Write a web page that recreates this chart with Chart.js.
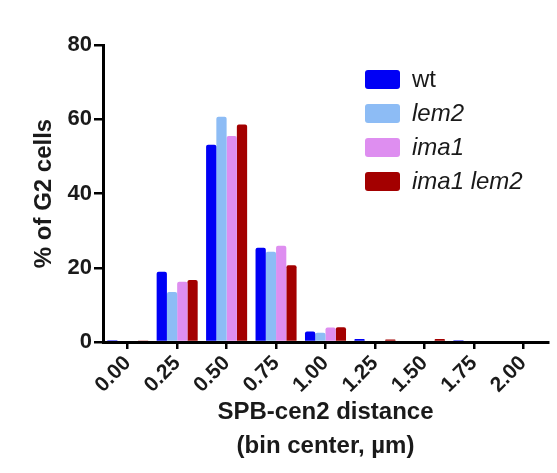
<!DOCTYPE html>
<html>
<head>
<meta charset="utf-8">
<script src="https://cdn.jsdelivr.net/npm/chart.js@4.4.1/dist/chart.umd.min.js"></script>
<style>
  html, body { margin:0; padding:0; background:#fff; }
  #wrap { width:557px; height:473px; position:relative; }
</style>
</head>
<body>
<div id="wrap"><canvas id="c"></canvas></div>
<script>
  // bin centers (µm)
  const bins = ["0.00","0.25","0.50","0.75","1.00","1.25","1.50","1.75","2.00"];
  const yTicks = [0, 20, 40, 60, 80];

  // % of G2 cells per bin
  const wt       = [0.5, 18.9, 53.1, 25.4, 2.8, 0.8, 0,   0.5, 0];
  const lem2     = [0,   13.5, 60.7, 24.3, 2.5, 0,   0,   0,   0];
  const ima1     = [0,   16.2, 55.5, 25.9, 3.9, 0,   0,   0,   0];
  const ima1lem2 = [0.4, 16.7, 58.6, 20.7, 4.0, 0.7, 0.8, 0,   0];

  const seriesNames = ["wt", "lem2", "ima1", "ima1 lem2"];

  const FONT = "'Liberation Sans', Arial, sans-serif";
  const INK = "#1a1a1a";

  function ds(label, data, color, italic){
    return {
      label, data, backgroundColor: color, italic,
      borderRadius: { topLeft: 2, topRight: 2 }, borderSkipped: "bottom",
      barPercentage: 1.0, categoryPercentage: 0.83
    };
  }

  // legend drawn inside the plot, upper right
  const insideLegend = {
    id: "insideLegend",
    afterDraw(chart){
      const ctx = chart.ctx;
      ctx.save();
      chart.data.datasets.forEach((d, i) => {
        const y = 70 + i * 34;
        ctx.fillStyle = d.backgroundColor;
        ctx.beginPath();
        ctx.roundRect(365, y, 35, 19, 3);
        ctx.fill();
        ctx.fillStyle = INK;
        ctx.font = (d.italic ? "italic " : "") + "24px " + FONT;
        ctx.textBaseline = "middle";
        ctx.textAlign = "left";
        ctx.fillText(d.label, 412, y + 10);
      });
      ctx.restore();
    }
  };

  new Chart(document.getElementById("c"), {
    type: "bar",
    data: {
      labels: bins,
      datasets: [
        ds(seriesNames[0], wt,       "#0000f5", false),
        ds(seriesNames[1], lem2,     "#8dbcf5", true),
        ds(seriesNames[2], ima1,     "#de8ef0", true),
        ds(seriesNames[3], ima1lem2, "#a30000", true),
      ]
    },
    options: {
      responsive: true, maintainAspectRatio: false, animation: false,
      layout: { padding: { top: 45, right: 9, left: 0, bottom: 0 } },
      plugins: { legend: { display: false }, tooltip: { enabled: false } },
      scales: {
        x: {
          offset: true,
          grid: { display: true, offset: false, drawOnChartArea: false, drawTicks: true, tickLength: 7, color: "#000", lineWidth: 2.5 },
          border: { color: "#000", width: 3 },
          ticks: { color: INK, font: { family: FONT, size: 21, weight: "bold" }, minRotation: 45, maxRotation: 45, padding: 2 },
          title: { display: true, text: ["SPB-cen2 distance", "(bin center, µm)"], color: INK,
                   font: { family: FONT, size: 24, weight: "bold", lineHeight: 1.42 }, padding: { top: 4, bottom: 10 } },
          afterFit(s){ s.height = 131; }
        },
        y: {
          min: 0, max: 80,
          afterBuildTicks(s){ s.ticks = yTicks.map(v => ({ value: v })); },
          grid: { display: true, drawOnChartArea: false, drawTicks: true, tickLength: 9, color: "#000", lineWidth: 2.5 },
          border: { color: "#000", width: 3 },
          ticks: { color: INK, font: { family: FONT, size: 22, weight: "bold" }, padding: 2 },
          title: { display: true, text: "% of G2 cells", color: INK,
                   font: { family: FONT, size: 24, weight: "bold" }, padding: { top: 30, bottom: 0 } },
          afterFit(s){ s.width = 103; }
        }
      }
    },
    plugins: [insideLegend]
  });
</script>
</body>
</html>
